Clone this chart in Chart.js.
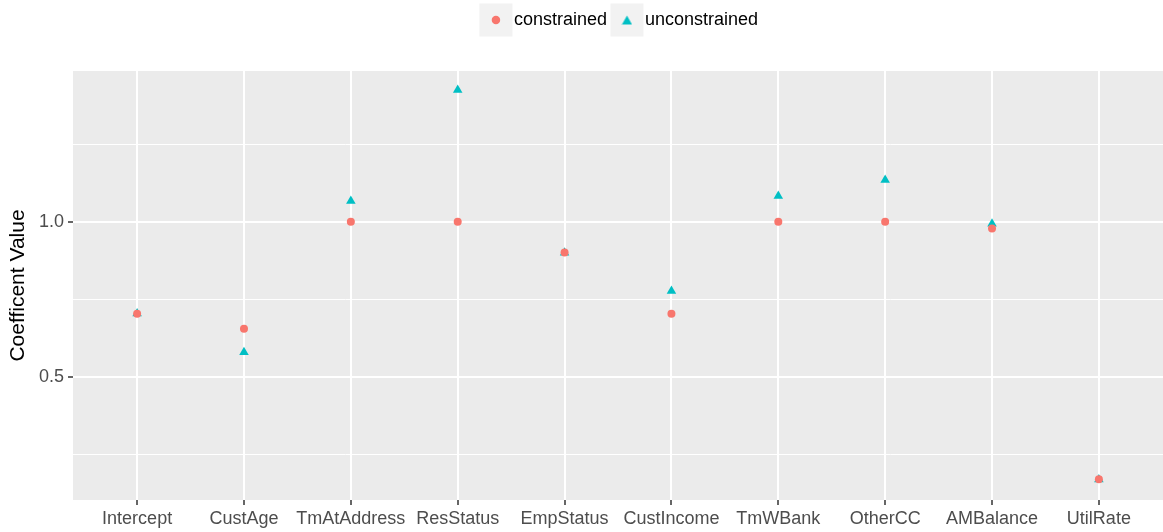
<!DOCTYPE html>
<html>
<head>
<meta charset="utf-8">
<script src="https://cdn.jsdelivr.net/npm/chart.js@4.4.1/dist/chart.umd.min.js"></script>
<style>
  html, body { margin: 0; padding: 0; background: #fff; }
  #wrap { width: 1163px; height: 532px; }
</style>
</head>
<body>
<div id="wrap"><canvas id="coefChart" width="1163" height="532"></canvas></div>
<script>
const categories = ['Intercept', 'CustAge', 'TmAtAddress', 'ResStatus', 'EmpStatus',
  'CustIncome', 'TmWBank', 'OtherCC', 'AMBalance', 'UtilRate'];
const constrained = [0.704, 0.656, 1.0, 1.0, 0.901, 0.704, 1.0, 1.0, 0.978, 0.172];
const unconstrained = [0.705, 0.580, 1.067, 1.424, 0.900, 0.777, 1.083, 1.134, 0.994, 0.171];
const yTicks = [0.25, 0.5, 0.75, 1.0, 1.25];
const yLabels = { 0.5: '0.5', 1: '1.0' };

function toPoints(vals) {
  return vals.map((v, i) => ({ x: i, y: v }));
}

const isMajor = v => v === 0.5 || v === 1;

// bigger triangle for the legend key (legend points are all one size otherwise)
function triangleKey(color) {
  const c = document.createElement('canvas');
  c.width = 11;
  c.height = 10;
  const g = c.getContext('2d');
  g.fillStyle = color;
  g.beginPath();
  g.moveTo(5.5, 0.5);
  g.lineTo(10.5, 9.5);
  g.lineTo(0.5, 9.5);
  g.closePath();
  g.fill();
  return c;
}

// grey panel behind the plot + grey key boxes in the legend
const ggBackground = {
  id: 'ggBackground',
  afterInit(chart) {
    // leave a gap under the legend, like ggplot does
    const lg = chart.legend;
    const fit = lg.fit;
    lg.fit = function () {
      fit.call(this);
      this.height += 32;
    };
  },
  afterLayout(chart) {
    // centre the legend over the panel rather than the whole canvas
    chart.legend.left += 41;
    chart.legend.right += 41;
  },
  beforeDraw(chart) {
    const { ctx, chartArea } = chart;
    ctx.save();
    ctx.fillStyle = '#EBEBEB';
    ctx.fillRect(chartArea.left, chartArea.top, chartArea.right - chartArea.left, chartArea.bottom - chartArea.top);
    const lg = chart.legend;
    if (lg && lg.legendHitBoxes) {
      ctx.fillStyle = '#F2F2F2';
      lg.legendHitBoxes.forEach(b => {
        const cx = b.left + 9;
        const cy = b.top + 9;
        ctx.fillRect(cx - 16.5, cy - 16.5, 33, 33);
      });
    }
    ctx.restore();
  }
};

const ctx = document.getElementById('coefChart').getContext('2d');
const triKey = triangleKey('#00BFC4');

new Chart(ctx, {
  type: 'scatter',
  data: {
    datasets: [
      {
        label: 'constrained',
        data: toPoints(constrained),
        pointStyle: 'circle',
        pointRadius: 4,
        backgroundColor: '#F8766D',
        borderColor: '#F8766D',
        borderWidth: 0
      },
      {
        label: 'unconstrained',
        data: toPoints(unconstrained),
        pointStyle: 'triangle',
        pointRadius: 5.5,
        backgroundColor: '#00BFC4',
        borderColor: '#00BFC4',
        borderWidth: 0
      }
    ]
  },
  options: {
    responsive: false,
    animation: false,
    layout: { autoPadding: false, padding: { left: 0, right: 0, top: 0, bottom: 0 } },
    plugins: {
      tooltip: { enabled: false },
      legend: {
        position: 'top',
        labels: {
          usePointStyle: true,
          boxWidth: 18,
          boxHeight: 6,
          padding: 11,
          color: '#000',
          font: { family: 'Liberation Sans', size: 18 },
          generateLabels: chart => {
            const items = Chart.defaults.plugins.legend.labels.generateLabels(chart);
            items.forEach(it => {
              if (it.pointStyle === 'triangle') it.pointStyle = triKey;
            });
            return items;
          }
        }
      }
    },
    scales: {
      x: {
        type: 'linear',
        min: -0.6,
        max: 9.6,
        afterBuildTicks: scale => {
          scale.ticks = categories.map((c, i) => ({ value: i }));
        },
        afterFit: scale => {
          scale.height = 32;
          scale.paddingLeft = 0;
          scale.paddingRight = 0;
        },
        border: { display: false },
        grid: {
          color: '#FFFFFF',
          lineWidth: 2,
          tickColor: '#333333',
          tickLength: 5,
          tickWidth: 1.5
        },
        ticks: {
          autoSkip: false,
          maxRotation: 0,
          padding: 3,
          color: '#4D4D4D',
          font: { family: 'Liberation Sans', size: 18 },
          callback: v => categories[v]
        }
      },
      y: {
        min: 0.105,
        max: 1.485,
        afterBuildTicks: scale => {
          scale.ticks = yTicks.map(v => ({ value: v }));
        },
        afterFit: scale => { scale.width = 73; },
        border: { display: false },
        grid: {
          color: '#FFFFFF',
          lineWidth: c => isMajor(c.tick.value) ? 2 : 1,
          tickColor: c => isMajor(c.tick.value) ? '#333333' : 'rgba(0,0,0,0)',
          tickLength: 5,
          tickWidth: 1.5
        },
        ticks: {
          padding: 4,
          color: '#4D4D4D',
          font: { family: 'Liberation Sans', size: 18 },
          callback: v => yLabels[v] || ''
        },
        title: {
          display: true,
          text: 'Coefficent Value',
          color: '#000',
          padding: { top: 6, bottom: 0 },
          font: { family: 'Liberation Sans', size: 21 }
        }
      }
    }
  },
  plugins: [ggBackground]
});
</script>
</body>
</html>
